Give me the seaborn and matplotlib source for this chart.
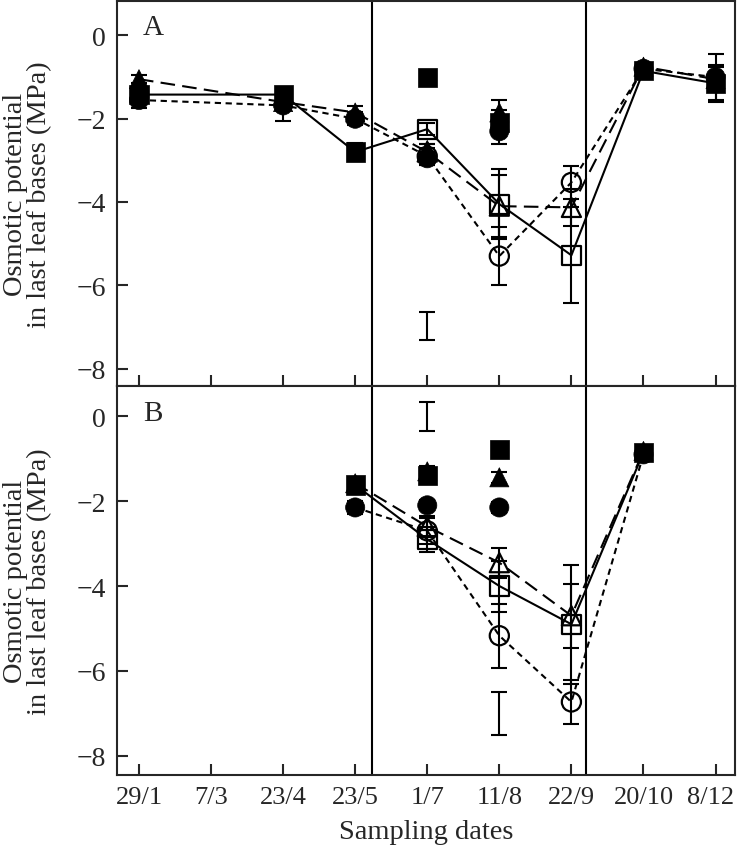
import matplotlib
matplotlib.use("Agg")
import matplotlib.pyplot as plt
from matplotlib.transforms import offset_copy
import seaborn as sns
import pandas as pd
import numpy as np

# sampling dates (categorical x axis)
dates = ["29/1", "7/3", "23/4", "23/5", "1/7", "11/8", "22/9", "20/10", "8/12"]

# ---- Panel A : series connected by lines (filled outside stress, open during stress)
a_x = [0, 2, 3, 4, 5, 6, 7, 8]
a_sq = [-1.42, -1.42, -2.80, -2.25, -4.05, -5.28, -0.85, -1.15]
a_sq_err = [0.12, 0.12, 0.22, 0.15, 0.85, 1.15, 0.10, 0.45]
a_ci = [-1.55, -1.68, -2.00, -2.90, -5.30, -3.53, -0.80, -1.00]
a_ci_err = [0.20, 0.38, 0.15, 0.20, 0.70, 0.40, 0.08, 0.55]
a_tr = [-1.05, -1.60, -1.85, -2.80, -4.10, -4.13, -0.75, -1.05]
a_tr_err = [0.10, 0.10, 0.15, 0.20, 0.75, 0.45, 0.08, 0.30]

# panel A controls (not connected)
a_ctrl_x = [4, 5]
a_ctrl_sq = [-1.00, -2.10]
a_ctrl_ci = [-2.95, -2.30]
a_ctrl_tr = [-2.75, -1.85]
a_ctrl_err = [0.15, 0.30]

# ---- Panel B
b_x = [3, 4, 5, 6, 7]
b_sq = [-1.62, -2.90, -4.00, -4.90, -0.85]
b_sq_err = [0.12, 0.30, 0.60, 1.40, 0.08]
b_ci = [-2.15, -2.70, -5.17, -6.73, -0.90]
b_ci_err = [0.15, 0.30, 0.75, 0.52, 0.08]
b_tr = [-1.58, -2.60, -3.45, -4.70, -0.82]
b_tr_err = [0.10, 0.25, 0.35, 0.75, 0.08]

b_ctrl_x = [4, 5]
b_ctrl_sq = [-1.40, -0.78]
b_ctrl_ci = [-2.10, -2.15]
b_ctrl_tr = [-1.30, -1.44]
b_ctrl_err = [0.12, 0.13]

# isolated bars (LSD) : x, centre, half-length
a_lsd_x, a_lsd_y, a_lsd_h = [4], [-6.98], [0.33]
b_lsd_x, b_lsd_y, b_lsd_h = [4, 5], [-0.01, -7.0], [0.34, 0.5]

stress_dates = [4, 5, 6]


def long_df(x, sq, ci, tr, sq_e, ci_e, tr_e):
    rows = []
    for g, ys, es in [("sq", sq, sq_e), ("ci", ci, ci_e), ("tr", tr, tr_e)]:
        for xi, yi, ei in zip(x, ys, es):
            rows.append({"x": xi, "y": yi, "err": ei, "geno": g})
    return pd.DataFrame(rows)


dfA = long_df(a_x, a_sq, a_ci, a_tr, a_sq_err, a_ci_err, a_tr_err)
dfB = long_df(b_x, b_sq, b_ci, b_tr, b_sq_err, b_ci_err, b_tr_err)
ctA = long_df(a_ctrl_x, a_ctrl_sq, a_ctrl_ci, a_ctrl_tr, a_ctrl_err, a_ctrl_err, a_ctrl_err)
ctB = long_df(b_ctrl_x, b_ctrl_sq, b_ctrl_ci, b_ctrl_tr, b_ctrl_err, b_ctrl_err, b_ctrl_err)

sns.set_style("ticks")
plt.rcParams["font.family"] = ["Liberation Serif", "DejaVu Serif"]

marker_map = {"sq": "s", "ci": "o", "tr": "^"}
dash_map = {"sq": "", "ci": (3, 2.2), "tr": (7, 3.5)}
order = ["sq", "ci", "tr"]

fig = plt.figure(figsize=(7.38, 8.53), dpi=100)
axA = fig.add_axes([117 / 738, 1 - 387 / 853, 618 / 738, 385.5 / 853])
axB = fig.add_axes([117 / 738, 1 - 776 / 853, 618 / 738, 389 / 853])


def draw(ax, df, ct, lsd_x, lsd_y, lsd_h, ylim, letter):
    sns.lineplot(data=df, x="x", y="y", style="geno", style_order=order,
                 dashes=dash_map, color="k", lw=1.5, estimator=None,
                 sort=False, legend=False, ax=ax)
    for d in (df, ct):
        ax.errorbar(d["x"], d["y"], yerr=d["err"], fmt="none", ecolor="k",
                    elinewidth=1.5, capsize=6, capthick=1.5, zorder=3)
    ax.errorbar(lsd_x, lsd_y, yerr=lsd_h, fmt="none", ecolor="k",
                elinewidth=1.5, capsize=6, capthick=1.5)

    filled = pd.concat([df[~df["x"].isin(stress_dates)], ct])
    opened = df[df["x"].isin(stress_dates)]
    sns.scatterplot(data=opened, x="x", y="y", style="geno", style_order=order,
                    markers=marker_map, s=190, color="k", facecolor="none",
                    edgecolor="k", linewidth=1.6, legend=False, ax=ax, zorder=4)
    sns.scatterplot(data=filled, x="x", y="y", style="geno", style_order=order,
                    markers=marker_map, s=190, color="k", edgecolor="k",
                    linewidth=0.5, legend=False, ax=ax, zorder=5)

    for xv in (3.23, 6.2):
        ax.axvline(xv, color="k", lw=1.5, zorder=1)

    ax.set_xlim(-0.305, 8.27)
    ax.set_ylim(*ylim)
    ax.set_yticks([0, -2, -4, -6, -8])
    ax.set_xticks(range(len(dates)))
    ax.tick_params(direction="in", length=8, width=1.5, labelsize=20, pad=8)
    ax.tick_params(axis="x", labelsize=19)
    for sp in ax.spines.values():
        sp.set_linewidth(1.5)
        sp.set_visible(True)
    ax.text(0.042, 0.912, letter, transform=ax.transAxes, fontsize=21, va="baseline")
    ax.set_ylabel("Osmotic potential\nin last leaf bases (MPa)", fontsize=20.5,
                  linespacing=0.95, va="center")
    ax.yaxis.set_label_coords(-0.145, 0.5)


draw(axA, dfA, ctA, a_lsd_x, a_lsd_y, a_lsd_h, (-8.42, 0.84), "A")
draw(axB, dfB, ctB, b_lsd_x, b_lsd_y, b_lsd_h, (-8.45, 0.71), "B")

axA.set_xticklabels([])
axA.set_xlabel("")
axB.set_xticklabels(dates)
axB.set_xlabel("Sampling dates", fontsize=20.5, labelpad=8)

# nudge the last date label a few pixels left so it stays inside the figure
fig.canvas.draw()
last = axB.xaxis.get_major_ticks()[-1].label1
last.set_transform(offset_copy(last.get_transform(), fig=fig, x=-5, y=0, units="dots"))

fig.savefig("out.png", dpi=100)
